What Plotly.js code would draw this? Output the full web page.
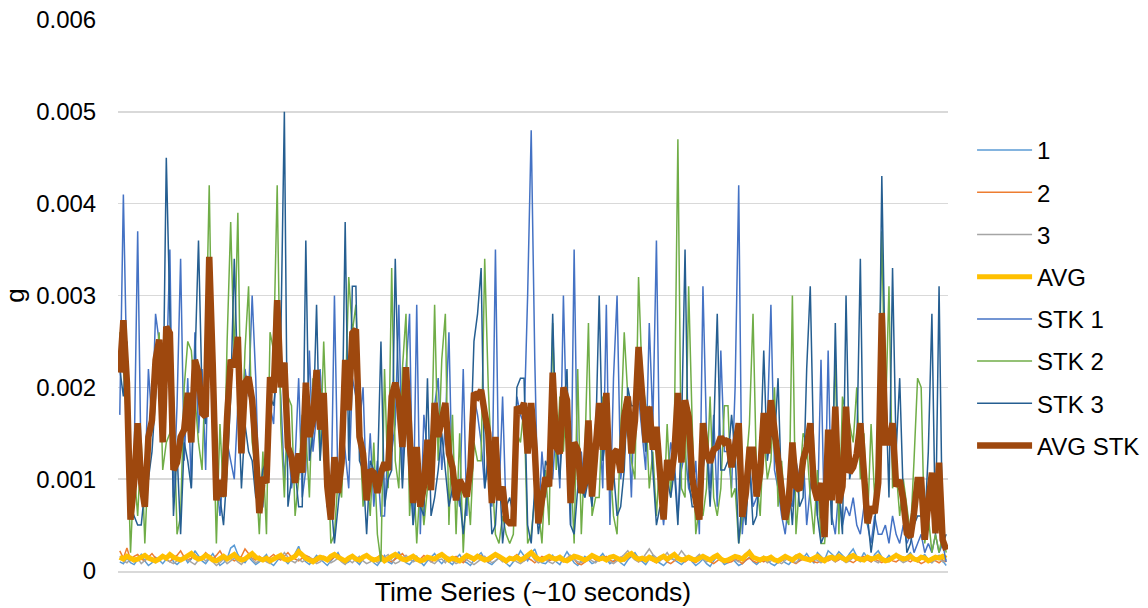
<!DOCTYPE html>
<html>
<head>
<meta charset="utf-8">
<script src="https://cdn.plot.ly/plotly-3.0.1.min.js"></script>
<style>html,body{margin:0;padding:0;background:#fff;}#chart{width:1148px;height:608px;}</style>
</head>
<body>
<div id="chart"></div>
<script>
// Low-level channels 1, 2, 3 and their average (g)
const ch1 = [0.00010,0.00008,0.00014,0.00009,0.00007,0.00012,0.00018,0.00011,0.00006,0.00009,0.00015,0.00012,0.00008,0.00013,0.00020,0.00010,0.00007,0.00011,0.00016,0.00009,
0.00013,0.00022,0.00017,0.00011,0.00008,0.00014,0.00019,0.00012,0.00006,0.00009,0.00013,0.00025,0.00028,0.00018,0.00012,0.00009,0.00015,0.00011,0.00007,0.00010,
0.00014,0.00018,0.00009,0.00006,0.00011,0.00016,0.00012,0.00008,0.00013,0.00019,0.00027,0.00015,0.00010,0.00007,0.00012,0.00017,0.00013,0.00009,0.00006,0.00011,
0.00015,0.00020,0.00012,0.00008,0.00010,0.00016,0.00011,0.00007,0.00013,0.00018,0.00014,0.00009,0.00006,0.00012,0.00017,0.00010,0.00008,0.00014,0.00021,0.00013,
0.00009,0.00007,0.00012,0.00016,0.00010,0.00006,0.00011,0.00015,0.00019,0.00012,0.00008,0.00013,0.00010,0.00007,0.00014,0.00018,0.00011,0.00009,0.00006,0.00012,
0.00016,0.00020,0.00013,0.00009,0.00007,0.00011,0.00015,0.00012,0.00008,0.00005,0.00010,0.00014,0.00022,0.00016,0.00011,0.00019,0.00024,0.00013,0.00009,0.00008,
0.00012,0.00017,0.00010,0.00007,0.00014,0.00021,0.00015,0.00009,0.00006,0.00011,0.00016,0.00012,0.00008,0.00010,0.00015,0.00019,0.00013,0.00008,0.00011,0.00014,
0.00009,0.00006,0.00012,0.00016,0.00020,0.00014,0.00010,0.00007,0.00013,0.00017,0.00011,0.00008,0.00006,0.00010,0.00014,0.00012,0.00009,0.00007,0.00011,0.00015,
0.00010,0.00006,0.00009,0.00013,0.00008,0.00005,0.00011,0.00016,0.00012,0.00007,0.00009,0.00014,0.00010,0.00006,0.00008,0.00012,0.00015,0.00010,0.00007,0.00011,
0.00016,0.00012,0.00008,0.00006,0.00010,0.00013,0.00009,0.00007,0.00012,0.00017,0.00011,0.00014,0.00019,0.00013,0.00009,0.00020,0.00016,0.00012,0.00022,0.00018,
0.00015,0.00021,0.00017,0.00013,0.00019,0.00024,0.00016,0.00012,0.00020,0.00014,0.00010,0.00018,0.00022,0.00015,0.00012,0.00017,0.00013,0.00019,0.00014,0.00011,
0.00016,0.00020,0.00013,0.00010,0.00015,0.00018,0.00012,0.00009,0.00014,0.00017,0.00011,0.00006];
const ch2 = [0.00022,0.00014,0.00025,0.00012,0.00016,0.00018,0.00013,0.00011,0.00015,0.00019,0.00014,0.00012,0.00016,0.00013,0.00010,0.00014,0.00017,0.00022,0.00015,0.00012,
0.00014,0.00018,0.00012,0.00015,0.00020,0.00016,0.00013,0.00017,0.00022,0.00015,0.00012,0.00014,0.00011,0.00013,0.00016,0.00024,0.00019,0.00014,0.00012,0.00016,
0.00013,0.00011,0.00015,0.00018,0.00014,0.00012,0.00016,0.00020,0.00015,0.00013,0.00011,0.00014,0.00017,0.00015,0.00012,0.00010,0.00013,0.00016,0.00014,0.00012,
0.00015,0.00018,0.00014,0.00011,0.00013,0.00016,0.00012,0.00010,0.00014,0.00017,0.00013,0.00011,0.00015,0.00018,0.00014,0.00012,0.00010,0.00013,0.00016,0.00019,
0.00014,0.00012,0.00015,0.00011,0.00013,0.00017,0.00014,0.00010,0.00012,0.00015,0.00018,0.00013,0.00011,0.00014,0.00016,0.00012,0.00009,0.00013,0.00015,0.00011,
0.00014,0.00017,0.00012,0.00010,0.00013,0.00016,0.00014,0.00011,0.00009,0.00012,0.00015,0.00018,0.00013,0.00011,0.00014,0.00012,0.00009,0.00013,0.00016,0.00014,
0.00011,0.00013,0.00015,0.00012,0.00010,0.00014,0.00017,0.00013,0.00008,0.00007,0.00010,0.00013,0.00015,0.00012,0.00011,0.00014,0.00016,0.00012,0.00010,0.00013,
0.00015,0.00011,0.00014,0.00017,0.00013,0.00010,0.00012,0.00015,0.00013,0.00011,0.00009,0.00012,0.00014,0.00010,0.00008,0.00011,0.00014,0.00012,0.00010,0.00013,
0.00011,0.00009,0.00012,0.00015,0.00013,0.00010,0.00008,0.00011,0.00014,0.00012,0.00009,0.00010,0.00013,0.00011,0.00008,0.00012,0.00014,0.00011,0.00009,0.00012,
0.00010,0.00013,0.00015,0.00012,0.00009,0.00011,0.00014,0.00012,0.00010,0.00008,0.00011,0.00013,0.00015,0.00012,0.00010,0.00009,0.00012,0.00014,0.00011,0.00013,
0.00010,0.00012,0.00015,0.00013,0.00011,0.00009,0.00012,0.00014,0.00016,0.00012,0.00010,0.00013,0.00011,0.00009,0.00012,0.00014,0.00011,0.00010,0.00013,0.00015,
0.00012,0.00010,0.00013,0.00011,0.00008,0.00010,0.00012,0.00014,0.00011,0.00009,0.00012,0.00010];
const ch3 = [0.00016,0.00011,0.00009,0.00013,0.00010,0.00014,0.00008,0.00012,0.00015,0.00011,0.00009,0.00013,0.00017,0.00012,0.00010,0.00008,0.00011,0.00014,0.00016,0.00012,
0.00009,0.00007,0.00012,0.00015,0.00011,0.00014,0.00010,0.00006,0.00009,0.00013,0.00008,0.00011,0.00014,0.00010,0.00007,0.00012,0.00016,0.00013,0.00009,0.00011,
0.00014,0.00010,0.00008,0.00012,0.00016,0.00013,0.00020,0.00015,0.00011,0.00009,0.00013,0.00010,0.00012,0.00015,0.00011,0.00008,0.00010,0.00014,0.00012,0.00009,
0.00011,0.00014,0.00010,0.00007,0.00012,0.00009,0.00013,0.00016,0.00011,0.00008,0.00010,0.00013,0.00009,0.00012,0.00015,0.00018,0.00012,0.00008,0.00010,0.00014,
0.00017,0.00013,0.00010,0.00012,0.00009,0.00011,0.00014,0.00010,0.00008,0.00012,0.00013,0.00009,0.00015,0.00011,0.00008,0.00010,0.00014,0.00012,0.00009,0.00007,
0.00010,0.00013,0.00016,0.00012,0.00009,0.00011,0.00014,0.00010,0.00012,0.00015,0.00013,0.00010,0.00008,0.00011,0.00014,0.00018,0.00012,0.00009,0.00011,0.00013,
0.00010,0.00008,0.00012,0.00015,0.00011,0.00014,0.00017,0.00013,0.00010,0.00009,0.00012,0.00014,0.00011,0.00009,0.00013,0.00016,0.00012,0.00010,0.00008,0.00011,
0.00014,0.00018,0.00022,0.00016,0.00012,0.00010,0.00013,0.00019,0.00024,0.00018,0.00014,0.00011,0.00015,0.00020,0.00014,0.00012,0.00016,0.00022,0.00017,0.00013,
0.00011,0.00014,0.00018,0.00013,0.00010,0.00012,0.00016,0.00014,0.00011,0.00009,0.00013,0.00015,0.00012,0.00010,0.00014,0.00019,0.00023,0.00016,0.00012,0.00010,
0.00013,0.00009,0.00011,0.00014,0.00010,0.00008,0.00012,0.00015,0.00011,0.00009,0.00013,0.00016,0.00012,0.00010,0.00014,0.00011,0.00009,0.00012,0.00015,0.00013,
0.00010,0.00014,0.00012,0.00009,0.00011,0.00015,0.00013,0.00010,0.00012,0.00016,0.00014,0.00011,0.00009,0.00013,0.00012,0.00010,0.00014,0.00017,0.00012,0.00009,
0.00011,0.00014,0.00012,0.00010,0.00013,0.00015,0.00011,0.00009,0.00012,0.00014,0.00010,0.00013];
const avg = [0.00015,0.00013,0.00016,0.00014,0.00012,0.00013,0.00015,0.00017,0.00014,0.00012,0.00011,0.00013,0.00016,0.00014,0.00018,0.00015,0.00013,0.00012,0.00014,0.00016,
0.00019,0.00015,0.00013,0.00014,0.00017,0.00015,0.00012,0.00011,0.00014,0.00016,0.00013,0.00015,0.00018,0.00014,0.00012,0.00013,0.00016,0.00019,0.00015,0.00013,
0.00012,0.00014,0.00011,0.00013,0.00015,0.00017,0.00013,0.00012,0.00014,0.00016,0.00021,0.00017,0.00014,0.00012,0.00010,0.00013,0.00015,0.00014,0.00012,0.00016,
0.00018,0.00015,0.00013,0.00011,0.00014,0.00016,0.00013,0.00012,0.00015,0.00017,0.00014,0.00012,0.00013,0.00015,0.00011,0.00014,0.00016,0.00018,0.00015,0.00013,
0.00012,0.00014,0.00016,0.00013,0.00011,0.00012,0.00015,0.00014,0.00013,0.00016,0.00018,0.00015,0.00012,0.00014,0.00013,0.00011,0.00014,0.00017,0.00015,0.00013,
0.00016,0.00014,0.00012,0.00013,0.00015,0.00018,0.00016,0.00013,0.00011,0.00014,0.00013,0.00015,0.00012,0.00014,0.00017,0.00020,0.00016,0.00013,0.00012,0.00014,
0.00016,0.00014,0.00013,0.00015,0.00012,0.00011,0.00014,0.00016,0.00015,0.00013,0.00012,0.00014,0.00017,0.00015,0.00013,0.00014,0.00012,0.00015,0.00016,0.00014,
0.00012,0.00013,0.00017,0.00019,0.00015,0.00013,0.00014,0.00012,0.00015,0.00013,0.00011,0.00014,0.00016,0.00013,0.00015,0.00018,0.00014,0.00012,0.00013,0.00015,
0.00013,0.00012,0.00014,0.00016,0.00014,0.00012,0.00015,0.00017,0.00013,0.00011,0.00012,0.00014,0.00016,0.00015,0.00013,0.00017,0.00020,0.00015,0.00013,0.00012,
0.00014,0.00013,0.00015,0.00012,0.00011,0.00013,0.00016,0.00014,0.00012,0.00015,0.00017,0.00014,0.00013,0.00012,0.00014,0.00016,0.00013,0.00011,0.00014,0.00015,
0.00013,0.00016,0.00014,0.00012,0.00015,0.00017,0.00014,0.00013,0.00012,0.00015,0.00013,0.00014,0.00016,0.00013,0.00011,0.00012,0.00014,0.00017,0.00015,0.00013,
0.00014,0.00016,0.00013,0.00012,0.00015,0.00014,0.00011,0.00013,0.00015,0.00014,0.00016,0.00014];

// Stacked channels STK 1-3 and their average (g)
const stk1 = [0.0017,0.0041,0.0021,0.0008,0.0012,0.0037,0.0010,0.0009,0.0022,0.0016,
0.0028,0.0025,0.0016,0.0021,0.0035,0.0008,0.0018,0.0034,0.0012,0.0021,
0.0009,0.0026,0.0015,0.0022,0.0011,0.0029,0.0026,0.0010,0.0006,0.0011,
0.0014,0.0012,0.0010,0.0018,0.0016,0.0022,0.0019,0.0030,0.0021,0.0007,
0.0007,0.0013,0.0018,0.0016,0.0025,0.0019,0.0010,0.0015,0.0009,0.0012,
0.0021,0.0008,0.0011,0.0024,0.0013,0.0017,0.0022,0.0015,0.0007,0.0006,
0.0030,0.0009,0.0016,0.0013,0.0009,0.0021,0.0019,0.0016,0.0020,0.0008,
0.0015,0.0007,0.0012,0.0006,0.0006,0.0014,0.0013,0.0016,0.0029,0.0010,
0.0022,0.0028,0.0005,0.0029,0.0004,0.0017,0.0013,0.0009,0.0018,0.0021,
0.0011,0.0016,0.0026,0.0008,0.0010,0.0007,0.0022,0.0006,0.0016,0.0019,
0.0017,0.0014,0.0009,0.0013,0.0007,0.0035,0.0008,0.0019,0.0006,0.0005,
0.0006,0.0019,0.0017,0.0016,0.0030,0.0048,0.0023,0.0005,0.0013,0.0008,
0.0012,0.0010,0.0016,0.0009,0.0030,0.0014,0.0005,0.0035,0.0009,0.0013,
0.0008,0.0012,0.0011,0.0016,0.0017,0.0009,0.0029,0.0005,0.0021,0.0030,
0.0010,0.0013,0.0018,0.0008,0.0021,0.0019,0.0015,0.0011,0.0027,0.0016,
0.0036,0.0009,0.0005,0.0010,0.0014,0.0012,0.0006,0.0011,0.0013,0.0009,
0.0008,0.0012,0.0004,0.0031,0.0015,0.0009,0.0017,0.0007,0.0024,0.0013,
0.0013,0.0009,0.0020,0.0042,0.0004,0.0010,0.0012,0.0007,0.0008,0.0014,
0.0013,0.0016,0.0029,0.0011,0.0009,0.0006,0.0004,0.0008,0.0007,0.0012,
0.0010,0.0013,0.0005,0.0009,0.0012,0.0006,0.0023,0.0004,0.0024,0.0006,
0.0004,0.0009,0.0005,0.0007,0.0006,0.0008,0.0005,0.0004,0.0007,0.0005,
0.0003,0.0006,0.0004,0.0004,0.0005,0.0003,0.0006,0.0004,0.0003,0.0005,
0.0003,0.0004,0.0002,0.0003,0.0004,0.0002,0.0003,0.0002,0.0004,0.0002,0.0003,0.0001];
const stk2 = [0.0026,0.0022,0.0016,0.0002,0.0011,0.0006,0.0014,0.0003,0.0012,0.0020,
0.0022,0.0026,0.0011,0.0014,0.0015,0.0019,0.0004,0.0006,0.0020,0.0025,
0.0024,0.0019,0.0014,0.0011,0.0023,0.0042,0.0018,0.0003,0.0016,0.0008,
0.0025,0.0038,0.0023,0.0039,0.0013,0.0024,0.0031,0.0014,0.0011,0.0004,
0.0013,0.0004,0.0026,0.0024,0.0042,0.0016,0.0008,0.0019,0.0018,0.0006,
0.0010,0.0017,0.0015,0.0008,0.0021,0.0020,0.0012,0.0025,0.0014,0.0003,
0.0004,0.0010,0.0008,0.0018,0.0032,0.0026,0.0029,0.0016,0.0007,0.0011,
0.0006,0.0014,0.0004,0.0001,0.0022,0.0009,0.0033,0.0012,0.0009,0.0022,
0.0028,0.0006,0.0012,0.0003,0.0010,0.0005,0.0009,0.0011,0.0029,0.0012,
0.0023,0.0028,0.0005,0.0017,0.0004,0.0015,0.0002,0.0010,0.0005,0.0014,
0.0012,0.0012,0.0034,0.0020,0.0011,0.0004,0.0003,0.0006,0.0004,0.0003,
0.0004,0.0015,0.0014,0.0018,0.0003,0.0004,0.0008,0.0007,0.0003,0.0011,
0.0005,0.0027,0.0011,0.0019,0.0013,0.0020,0.0012,0.0003,0.0022,0.0004,
0.0013,0.0027,0.0006,0.0008,0.0008,0.0019,0.0014,0.0012,0.0006,0.0004,
0.0015,0.0026,0.0019,0.0012,0.0010,0.0032,0.0021,0.0018,0.0009,0.0013,
0.0006,0.0013,0.0006,0.0016,0.0008,0.0015,0.0047,0.0009,0.0008,0.0031,
0.0016,0.0004,0.0007,0.0006,0.0009,0.0019,0.0008,0.0006,0.0009,0.0018,
0.0018,0.0008,0.0009,0.0003,0.0006,0.0011,0.0016,0.0028,0.0010,0.0006,
0.0015,0.0010,0.0012,0.0020,0.0007,0.0012,0.0006,0.0005,0.0030,0.0004,
0.0009,0.0015,0.0014,0.0008,0.0004,0.0011,0.0003,0.0003,0.0008,0.0012,
0.0023,0.0004,0.0019,0.0017,0.0016,0.0014,0.0020,0.0010,0.0015,0.0005,
0.0016,0.0008,0.0014,0.0037,0.0016,0.0031,0.0009,0.0011,0.0006,0.0010,
0.0007,0.0004,0.0012,0.0021,0.0020,0.0003,0.0006,0.0002,0.0004,0.0002,0.0004,0.0002];
const stk3 = [0.0022,0.0019,0.0025,0.0007,0.0006,0.0005,0.0005,0.0009,0.0010,0.0013,
0.0019,0.0025,0.0015,0.0045,0.0028,0.0006,0.0013,0.0004,0.0014,0.0012,
0.0009,0.0024,0.0036,0.0019,0.0016,0.0032,0.0023,0.0010,0.0008,0.0005,
0.0011,0.0019,0.0034,0.0020,0.0009,0.0016,0.0013,0.0012,0.0008,0.0008,
0.0011,0.0012,0.0019,0.0018,0.0022,0.0025,0.0050,0.0007,0.0010,0.0011,
0.0007,0.0007,0.0036,0.0012,0.0015,0.0029,0.0012,0.0018,0.0007,0.0008,
0.0003,0.0007,0.0011,0.0038,0.0012,0.0031,0.0031,0.0012,0.0011,0.0004,
0.0012,0.0011,0.0010,0.0025,0.0007,0.0010,0.0011,0.0034,0.0018,0.0009,
0.0017,0.0011,0.0005,0.0009,0.0007,0.0006,0.0021,0.0006,0.0008,0.0011,
0.0015,0.0011,0.0007,0.0009,0.0009,0.0008,0.0004,0.0008,0.0013,0.0025,
0.0028,0.0033,0.0009,0.0012,0.0004,0.0005,0.0012,0.0003,0.0007,0.0008,
0.0006,0.0020,0.0021,0.0021,0.0005,0.0003,0.0009,0.0004,0.0007,0.0012,
0.0011,0.0028,0.0014,0.0010,0.0017,0.0022,0.0005,0.0004,0.0009,0.0009,
0.0008,0.0010,0.0007,0.0014,0.0030,0.0012,0.0015,0.0009,0.0011,0.0006,
0.0007,0.0011,0.0020,0.0018,0.0018,0.0022,0.0018,0.0013,0.0018,0.0011,
0.0005,0.0007,0.0006,0.0010,0.0008,0.0011,0.0005,0.0015,0.0035,0.0010,
0.0007,0.0007,0.0006,0.0011,0.0014,0.0007,0.0015,0.0028,0.0011,0.0011,
0.0012,0.0017,0.0013,0.0003,0.0008,0.0005,0.0012,0.0005,0.0006,0.0012,
0.0024,0.0012,0.0015,0.0014,0.0021,0.0008,0.0007,0.0010,0.0005,0.0012,
0.0007,0.0008,0.0022,0.0031,0.0012,0.0006,0.0003,0.0004,0.0014,0.0005,
0.0027,0.0009,0.0004,0.0030,0.0010,0.0012,0.0013,0.0034,0.0007,0.0006,
0.0002,0.0005,0.0011,0.0043,0.0021,0.0008,0.0033,0.0013,0.0021,0.0008,
0.0002,0.0003,0.0005,0.0006,0.0006,0.0005,0.0013,0.0028,0.0004,0.0031,0.0003,0.0004];
const avgStk = [0.00216,0.00273,0.00205,0.00056,0.00096,0.00161,0.00096,0.0007,0.00146,0.00164,
0.0023,0.00252,0.0014,0.00266,0.00259,0.0011,0.00118,0.00146,0.00154,0.00194,
0.0014,0.0023,0.00216,0.00172,0.00168,0.00342,0.00222,0.00077,0.00099,0.00081,
0.00168,0.0023,0.00222,0.00255,0.00128,0.00205,0.00211,0.00186,0.00132,0.00063,
0.00102,0.00096,0.00211,0.00194,0.00295,0.002,0.00227,0.00135,0.00124,0.00096,
0.00128,0.00107,0.00205,0.00146,0.00164,0.00219,0.00154,0.00194,0.00092,0.00056,
0.00124,0.00085,0.00118,0.0023,0.00175,0.00259,0.00263,0.00146,0.00128,0.00077,
0.0011,0.00107,0.00085,0.00107,0.00118,0.0011,0.0019,0.00205,0.00186,0.00135,
0.00222,0.0015,0.00074,0.00135,0.0007,0.00092,0.00143,0.00088,0.00183,0.00146,
0.00164,0.00183,0.00128,0.00113,0.00077,0.00099,0.00092,0.00081,0.00113,0.00194,
0.0019,0.00197,0.00172,0.0015,0.00074,0.00146,0.00077,0.00092,0.00056,0.00052,
0.00052,0.00179,0.00172,0.00183,0.00128,0.00183,0.00132,0.00052,0.00077,0.00102,
0.00092,0.00216,0.00135,0.00128,0.002,0.00186,0.00074,0.0014,0.00132,0.00085,
0.00096,0.00164,0.00081,0.00128,0.00183,0.00132,0.00194,0.00088,0.00128,0.00132,
0.00107,0.00168,0.0019,0.00128,0.00164,0.00244,0.00179,0.0014,0.00179,0.00132,
0.00157,0.00096,0.00056,0.00121,0.00099,0.00128,0.00194,0.00118,0.00186,0.00168,
0.00102,0.00077,0.00056,0.00161,0.00128,0.00118,0.00132,0.00135,0.00146,0.0014,
0.00143,0.00113,0.0014,0.00161,0.00059,0.00085,0.00132,0.00132,0.00081,0.00107,
0.00172,0.00128,0.00186,0.0015,0.00124,0.00088,0.00056,0.00077,0.0014,0.00092,
0.00088,0.00121,0.00135,0.00161,0.00092,0.00077,0.00096,0.00037,0.00154,0.00077,
0.00179,0.00074,0.00092,0.00179,0.00107,0.00113,0.00128,0.00161,0.00096,0.00052,
0.0007,0.00063,0.00096,0.00281,0.0014,0.0014,0.00161,0.00092,0.00099,0.00077,
0.00041,0.00037,0.00063,0.00099,0.00099,0.00034,0.00074,0.00107,0.00041,0.00118,0.00034,0.00023];

const seriesNames = ["1", "2", "3", "AVG", "STK 1", "STK 2", "STK 3", "AVG STK"];
const yTickVals = [0, 0.001, 0.002, 0.003, 0.004, 0.005, 0.006];
const yTickText = ["0", "0.001", "0.002", "0.003", "0.004", "0.005", "0.006"];

const sample = avgStk.map((_, i) => i + 1);
const seriesData = [ch1, ch2, ch3, avg, stk1, stk2, stk3, avgStk];
const colors = ["#5B9BD5", "#ED7D31", "#A5A5A5", "#FFC000", "#4472C4", "#70AD47", "#255E91", "#9E480E"];
const widths = [1.5, 1.5, 1.5, 5, 1.5, 1.5, 1.5, 6.5];

const traces = seriesData.map((ys, k) => ({
  type: "scatter", mode: "lines", x: sample, y: ys, name: seriesNames[k],
  legendgroup: "g" + k,
  line: { color: colors[k], width: widths[k], shape: "linear" },
  hoverinfo: "skip"
}));

const font = { family: "'Liberation Sans', Arial, sans-serif", color: "#000" };
const layout = {
  width: 1148, height: 608,
  margin: { l: 118, r: 200, t: 20, b: 37, autoexpand: false },
  paper_bgcolor: "#fff", plot_bgcolor: "#fff",
  showlegend: true,
  font: Object.assign({ size: 24 }, font),
  xaxis: {
    range: [0.5, sample.length + 0.5],
    showticklabels: false, ticks: "", showgrid: false, zeroline: false,
    showline: true, linecolor: "#D9D9D9", linewidth: 1.5,
    title: { text: "Time Series (~10 seconds)", font: Object.assign({ size: 26.5 }, font), standoff: 11 }
  },
  yaxis: {
    range: [0, 0.006],
    tickvals: yTickVals, ticktext: yTickText,
    showgrid: true, gridcolor: "#D9D9D9", gridwidth: 1.5,
    zeroline: false, showline: false,
    ticks: "outside", ticklen: 16, tickcolor: "rgba(0,0,0,0)",
    tickfont: Object.assign({ size: 24 }, font),
    title: { text: "g", font: Object.assign({ size: 26 }, font), standoff: 6 }
  },
  legend: {
    x: 1.029, xanchor: "left", y: 0.804, yanchor: "top",
    font: Object.assign({ size: 24 }, font),
    tracegroupgap: 8, traceorder: "grouped", itemwidth: 55,
    bgcolor: "rgba(0,0,0,0)"
  }
};

Plotly.newPlot("chart", traces, layout, { staticPlot: true, displayModeBar: false });
</script>
</body>
</html>
